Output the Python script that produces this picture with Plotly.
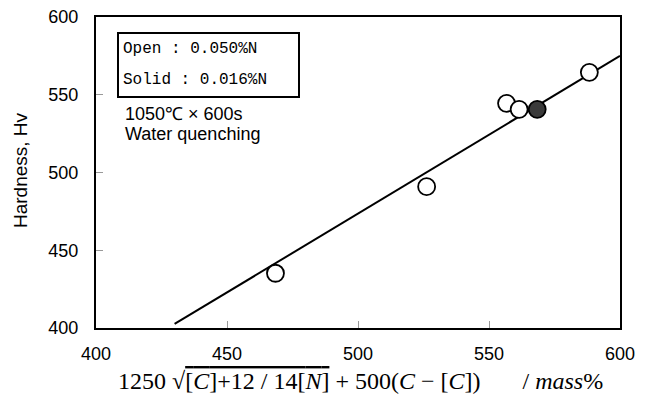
import plotly.graph_objects as go

# ---- data ----
open_x = [468.5, 526.2, 556.7, 561.5, 588.3]
open_y = [435.2, 490.9, 544.5, 540.6, 564.4]
solid_x = [568.4]
solid_y = [540.6]
fit_x = [430.0, 600.0]
fit_y = [402.6, 575.0]

x_ticks = [400, 450, 500, 550, 600]
y_ticks = [400, 450, 500, 550, 600]

legend_lines = ["Open : 0.050%N", "Solid : 0.016%N"]
cond_lines = ["1050\u2103 \u00d7 600s", "Water quenching"]
y_title = "Hardness, Hv"
x_title = ("1250 \u221a<span style='text-decoration:overline'>[<i>C</i>]+12 / 14[<i>N</i>]</span>"
           " + 500(<i>C</i> \u2212 [<i>C</i>])\u00a0\u00a0\u00a0\u00a0\u00a0\u00a0 / <i>mass</i>%")

W, H = 650, 413
OFF = 8  # browser body margin offset
L, R, T, B = 96 - OFF, 30 + OFF, 17 - OFF, 85 + OFF
pw, ph = W - L - R, H - T - B


def px(x):
    return (x - OFF - L) / pw


def py(y):
    return (H - B - (y - OFF)) / ph


fig = go.Figure()
fig.add_trace(go.Scatter(x=fit_x, y=fit_y, mode="lines",
                         line=dict(color="black", width=2), showlegend=False, hoverinfo="skip"))
fig.add_trace(go.Scatter(x=open_x, y=open_y, mode="markers",
                         marker=dict(symbol="circle", size=17, color="white",
                                     line=dict(color="black", width=1.8)), showlegend=False))
fig.add_trace(go.Scatter(x=solid_x, y=solid_y, mode="markers",
                         marker=dict(symbol="circle", size=17, color="#3a3a3a",
                                     line=dict(color="black", width=1.8)), showlegend=False))

axis_common = dict(showgrid=False, zeroline=False, showline=True, linecolor="black", linewidth=2,
                   mirror=True, ticks="inside", ticklen=7, tickwidth=1, tickcolor="#999999",
                   automargin=False, ticklabeloverflow="allow",
                   tickfont=dict(family="Liberation Sans, Arial, sans-serif", size=18, color="black"))

fig.update_xaxes(range=[400, 600], tickvals=x_ticks, ticktext=[str(v) for v in x_ticks],
                 ticklabelstandoff=8, **axis_common)
fig.update_yaxes(range=[400, 600], tickvals=y_ticks, ticktext=[str(v) for v in y_ticks],
                 ticklabelstandoff=12, **axis_common)

# y-axis title
fig.add_annotation(xref="paper", yref="paper", x=px(20), y=py(170), textangle=-90,
                   xanchor="center", yanchor="middle", showarrow=False, text=y_title,
                   font=dict(family="Liberation Sans, Arial, sans-serif", size=19, color="black"))

# legend box
fig.add_shape(type="rect", xref="paper", yref="paper",
              x0=px(118), x1=px(299), y0=py(97), y1=py(33),
              line=dict(color="black", width=2), fillcolor="rgba(0,0,0,0)")
for i, t in enumerate(legend_lines):
    fig.add_annotation(xref="paper", yref="paper", x=px(121), y=py(49.5 + 31 * i),
                       xanchor="left", yanchor="middle", showarrow=False, text=t,
                       font=dict(family="Liberation Mono, monospace", size=16, color="black"))
for i, t in enumerate(cond_lines):
    fig.add_annotation(xref="paper", yref="paper", x=px(123), y=py(114 + 20 * i),
                       xanchor="left", yanchor="middle", showarrow=False, text=t,
                       font=dict(family="Liberation Sans, Arial, sans-serif", size=18, color="black"))

# x-axis formula title
fig.add_annotation(xref="paper", yref="paper", x=px(116), y=py(381),
                   xanchor="left", yanchor="middle", showarrow=False, text=x_title,
                   font=dict(family="Liberation Serif, Times New Roman, serif", size=24, color="black"))

fig.update_layout(width=W, height=H, margin=dict(l=L, r=R, t=T, b=B),
                  paper_bgcolor="white", plot_bgcolor="white", showlegend=False)

fig.write_html("out.html")
